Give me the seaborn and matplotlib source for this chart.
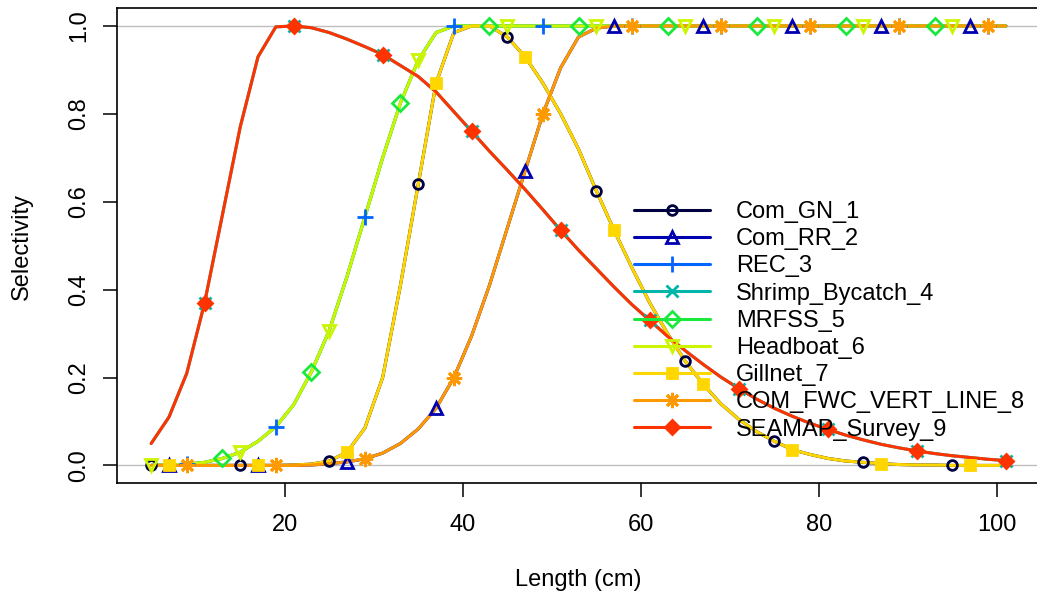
import numpy as np
import pandas as pd
import matplotlib
matplotlib.use("Agg")
import matplotlib.pyplot as plt
from matplotlib.lines import Line2D
import seaborn as sns

# ---------------- data ----------------
lengths = list(range(5, 102, 2))  # length bins (cm)

sel_dome_gillnet = [0, 0, 0, 0, 0, 0, 0, 0,
                    0.001, 0.003, 0.01, 0.03, 0.085, 0.2, 0.41, 0.64, 0.87, 0.985,
                    1.0, 1.0, 0.975, 0.93, 0.87, 0.80, 0.72, 0.625, 0.535, 0.45,
                    0.37, 0.30, 0.237, 0.185, 0.14, 0.105, 0.077, 0.055, 0.036, 0.025,
                    0.016, 0.01, 0.007, 0.004, 0.002, 0.001, 0.001, 0, 0, 0, 0]

sel_logistic_late = [0, 0, 0, 0, 0, 0, 0, 0, 0,
                     0.001, 0.004, 0.008, 0.015, 0.028, 0.05, 0.083, 0.13, 0.2,
                     0.295, 0.41, 0.54, 0.67, 0.80, 0.905, 0.975, 0.995,
                     1.0, 1.0, 1.0, 1.0, 1.0, 1.0, 1.0, 1.0, 1.0, 1.0, 1.0, 1.0,
                     1.0, 1.0, 1.0, 1.0, 1.0, 1.0, 1.0, 1.0, 1.0, 1.0, 1.0]

sel_logistic_early = [0, 0.001, 0.003, 0.007, 0.016, 0.03, 0.055, 0.088, 0.138,
                      0.213, 0.307, 0.43, 0.565, 0.70, 0.825, 0.922, 0.985,
                      1.0, 1.0, 1.0, 1.0, 1.0, 1.0, 1.0, 1.0, 1.0, 1.0, 1.0, 1.0,
                      1.0, 1.0, 1.0, 1.0, 1.0, 1.0, 1.0, 1.0, 1.0, 1.0, 1.0, 1.0,
                      1.0, 1.0, 1.0, 1.0, 1.0, 1.0, 1.0, 1.0]

sel_dome_survey = [0.05, 0.11, 0.21, 0.37, 0.57, 0.77, 0.93, 0.998, 1.0,
                   0.996, 0.985, 0.97, 0.953, 0.935, 0.91, 0.885, 0.85, 0.805, 0.76,
                   0.715, 0.672, 0.628, 0.582, 0.535, 0.49, 0.448, 0.406, 0.366, 0.33,
                   0.294, 0.261, 0.23, 0.201, 0.175, 0.151, 0.13, 0.112, 0.096, 0.082,
                   0.069, 0.058, 0.048, 0.04, 0.033, 0.027, 0.022, 0.018, 0.014, 0.011]

fleet_names = ["Com_GN_1", "Com_RR_2", "REC_3", "Shrimp_Bycatch_4", "MRFSS_5",
               "Headboat_6", "Gillnet_7", "COM_FWC_VERT_LINE_8", "SEAMAP_Survey_9"]
fleet_sel = [sel_dome_gillnet, sel_logistic_late, sel_logistic_early, sel_dome_survey,
             sel_logistic_early, sel_logistic_early, sel_dome_gillnet,
             sel_logistic_late, sel_dome_survey]

x_ticks = [20, 40, 60, 80, 100]
y_ticks = [0.0, 0.2, 0.4, 0.6, 0.8, 1.0]
y_ticklabels = ["0.0", "0.2", "0.4", "0.6", "0.8", "1.0"]

# ---------------- styles ----------------
colors = ["#000040", "#0000B0", "#0066FF", "#00B5AA", "#1AE83C",
          "#CCF500", "#FFD700", "#FF9900", "#FF3300"]
markers = ["o", "^", "+", "x", "D", "v", "s", (8, 2, 0), "D"]
msizes = [7, 9, 11, 9, 8, 9, 7.5, 11, 7.5]
filled = [False, False, False, False, False, False, True, False, True]

sns.set_style("ticks")
plt.rcParams["font.family"] = ["Liberation Sans", "DejaVu Sans"]
plt.rcParams["text.color"] = "black"
plt.rcParams["axes.labelcolor"] = "black"
FS = 17

fig = plt.figure(figsize=(10.37, 5.96), dpi=100)
ax = fig.add_axes([117 / 1037, 113 / 596, 923 / 1037, 474.6 / 596])

ax.axhline(0, color="#BEBEBE", lw=1, zorder=1)
ax.axhline(1, color="#BEBEBE", lw=1, zorder=1)

for i, name in enumerate(fleet_names):
    df = pd.DataFrame({"Length": lengths, "Sel": fleet_sel[i]})
    sns.lineplot(data=df, x="Length", y="Sel", color=colors[i], lw=2.2,
                 ax=ax, legend=False, sort=False, estimator=None, zorder=2)

handles = []
for i, name in enumerate(fleet_names):
    idx = list(range(i % 5, len(lengths), 5))
    xs = [lengths[k] for k in idx]
    ys = [fleet_sel[i][k] for k in idx]
    mfc = colors[i] if filled[i] else "none"
    ax.plot(xs, ys, ls="none", marker=markers[i], ms=msizes[i], mew=2,
            mec=colors[i], mfc=mfc, zorder=3)
    handles.append(Line2D([0], [0], color=colors[i], lw=2.2, marker=markers[i],
                          ms=msizes[i], mew=2, mec=colors[i], mfc=mfc))

ax.set_xlim(1.16, 104.84)
ax.set_ylim(-0.04, 1.04)
ax.set_xticks(x_ticks)
ax.set_xticklabels([str(t) for t in x_ticks])
ax.set_yticks(y_ticks)
ax.set_yticklabels(y_ticklabels, rotation=90, va="center")
ax.tick_params(axis="both", direction="out", length=10, width=1.1,
               labelsize=FS, colors="black")
ax.tick_params(axis="x", pad=12)
ax.tick_params(axis="y", pad=9)
for sp in ax.spines.values():
    sp.set_visible(True)
    sp.set_color("black")
    sp.set_linewidth(1.2)
ax.set_xlabel("")
ax.set_ylabel("")

fig.text(22 / 1037, 1 - 246 / 596, "Selectivity", rotation=90, ha="center",
         va="center", fontsize=FS, color="black")
fig.text(578 / 1037, 1 - 580 / 596, "Length (cm)", ha="center", va="center",
         fontsize=FS, color="black")

leg = ax.legend(handles, fleet_names, loc="upper left",
                bbox_to_anchor=(634 / 1037, 1 - 201 / 596),
                bbox_transform=fig.transFigure, frameon=False, fontsize=FS,
                handlelength=3.2, handletextpad=1.12, labelspacing=0.22,
                borderpad=0, borderaxespad=0, numpoints=1)
for t in leg.get_texts():
    t.set_color("black")

fig.savefig("out.png", dpi=100)
